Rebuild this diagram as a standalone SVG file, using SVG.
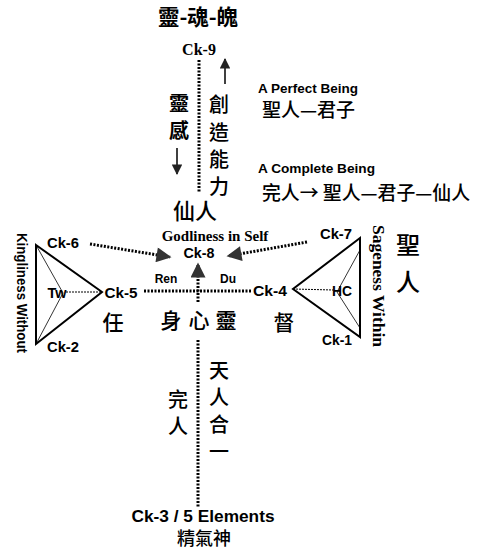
<svg xmlns="http://www.w3.org/2000/svg" width="488" height="560" viewBox="0 0 488 560">
<style>
.cjk{font-family:"Noto Sans CJK TC","Noto Sans CJK SC",sans-serif;font-weight:500;fill:#000}
.cjkb{font-family:"Noto Sans CJK TC","Noto Sans CJK SC",sans-serif;font-weight:bold;fill:#000}
.lab{font-family:"Liberation Sans",Arial,sans-serif;font-weight:bold;fill:#000}
.ser{font-family:"Liberation Serif","Times New Roman",serif;font-weight:bold;fill:#000}
.dot{stroke:#000;stroke-width:3;stroke-dasharray:2 1.5;fill:none}
.dotf{stroke:#000;stroke-width:1;stroke-dasharray:2 1;fill:none}
.thick{stroke:#000;stroke-width:2;fill:none}
.thin{stroke:#000;stroke-width:0.8;fill:none}
.solid{stroke:#000;stroke-width:1.5;fill:none}
</style>
<defs>
<marker id="ah" viewBox="0 0 10 10" refX="9" refY="5" markerWidth="6" markerHeight="5" orient="auto" markerUnits="strokeWidth">
<path d="M0,0 L10,5 L0,10 z" fill="#333"/>
</marker>
<marker id="ahs" viewBox="0 0 10 10" refX="9" refY="5" markerWidth="9" markerHeight="7" orient="auto" markerUnits="strokeWidth">
<path d="M0,0 L10,5 L0,10 z" fill="#222"/>
</marker>
</defs>
<rect width="488" height="560" fill="#fff"/>

<g id="title"><text class="cjkb" x="198" y="25" font-size="22" text-anchor="middle" textLength="80" lengthAdjust="spacingAndGlyphs">靈-魂-魄</text></g>

<g id="connectors">
<line class="dot" x1="199" y1="60" x2="199" y2="192"/>
<line class="solid" x1="225" y1="84" x2="225" y2="59" marker-end="url(#ahs)"/>
<line class="solid" x1="177" y1="148" x2="177" y2="174" marker-end="url(#ahs)"/>
<line class="dot" x1="90" y1="244" x2="170" y2="257" marker-end="url(#ah)"/>
<line class="dot" x1="307" y1="242" x2="228" y2="256" marker-end="url(#ah)"/>
<line class="dot" x1="144" y1="291" x2="251" y2="291"/>
<line class="dot" x1="198" y1="302" x2="198" y2="264" marker-end="url(#ah)"/>
<line class="dot" x1="198" y1="340" x2="198" y2="507"/>
</g>

<g id="ck9"><text class="ser" x="199" y="55" font-size="16" text-anchor="middle">Ck-9</text></g>

<g id="lingan">
<text class="cjkb" x="179" y="111" font-size="20" text-anchor="middle">靈</text>
<text class="cjkb" x="179" y="138" font-size="20" text-anchor="middle">感</text>
</g>
<g id="chuangzao">
<text class="cjk" x="219" y="112" font-size="20" text-anchor="middle">創</text>
<text class="cjk" x="219" y="140" font-size="20" text-anchor="middle">造</text>
<text class="cjk" x="219" y="167" font-size="20" text-anchor="middle">能</text>
<text class="cjk" x="219" y="194" font-size="20" text-anchor="middle">力</text>
</g>
<g id="xianren"><text class="cjk" x="195" y="219" font-size="22" text-anchor="middle">仙人</text></g>

<g id="perfect">
<text class="lab" x="258" y="93" font-size="13" textLength="100" lengthAdjust="spacingAndGlyphs">A Perfect Being</text>
<text class="cjk" x="262" y="117" font-size="19">聖人—君子</text>
</g>
<g id="complete">
<text class="lab" x="258" y="173" font-size="13" textLength="117" lengthAdjust="spacingAndGlyphs">A Complete Being</text>
<text class="cjk" x="262" y="200" font-size="19" textLength="208" lengthAdjust="spacingAndGlyphs">完人→ 聖人—君子—仙人</text>
</g>

<g id="ck8">
<text class="ser" x="215" y="241" font-size="15" text-anchor="middle">Godliness in Self</text>
<text class="lab" x="199" y="258" font-size="14" text-anchor="middle" textLength="31" lengthAdjust="spacingAndGlyphs">Ck-8</text>
</g>
<g id="rendu">
<text class="lab" x="166" y="283" font-size="12" text-anchor="middle">Ren</text>
<text class="lab" x="228" y="283" font-size="12" text-anchor="middle">Du</text>
</g>

<g id="left-tri">
<path class="thick" d="M36,245 L102,292 L36,344 Z"/>
<path class="thin" d="M36,245 L63,293 L36,344"/>
<line class="dotf" x1="66" y1="292" x2="102" y2="292"/>
<text class="lab" x="57" y="298" font-size="14" text-anchor="middle" textLength="19" lengthAdjust="spacingAndGlyphs">Tw</text>
<text class="lab" x="63" y="248" font-size="14" text-anchor="middle" textLength="32" lengthAdjust="spacingAndGlyphs">Ck-6</text>
<text class="lab" x="63" y="352" font-size="14" text-anchor="middle" textLength="32" lengthAdjust="spacingAndGlyphs">Ck-2</text>
<text class="lab" x="121" y="298" font-size="14" text-anchor="middle" textLength="33" lengthAdjust="spacingAndGlyphs">Ck-5</text>
<text class="lab" transform="translate(22,293) rotate(90)" x="0" y="5" font-size="15" text-anchor="middle" textLength="120" lengthAdjust="spacingAndGlyphs">Kingliness Without</text>
<text class="cjk" x="113" y="330" font-size="21" text-anchor="middle">任</text>
</g>

<g id="right-tri">
<path class="thick" d="M360,238 L293,289 L360,337 Z"/>
<path class="thin" d="M360,250 L337,292 L360,328"/>
<line class="dotf" x1="293" y1="289" x2="333" y2="290"/>
<text class="lab" x="342" y="296" font-size="14" text-anchor="middle" textLength="20" lengthAdjust="spacingAndGlyphs">HC</text>
<text class="lab" x="336" y="239" font-size="14" text-anchor="middle" textLength="32" lengthAdjust="spacingAndGlyphs">Ck-7</text>
<text class="lab" x="337" y="345" font-size="14" text-anchor="middle" textLength="30" lengthAdjust="spacingAndGlyphs">Ck-1</text>
<text class="lab" x="270" y="296" font-size="14" text-anchor="middle" textLength="34" lengthAdjust="spacingAndGlyphs">Ck-4</text>
<text class="ser" transform="translate(378,286) rotate(90)" x="0" y="5" font-size="16" text-anchor="middle" textLength="122" lengthAdjust="spacingAndGlyphs">Sageness Within</text>
<text class="cjk" x="284" y="330" font-size="21" text-anchor="middle">督</text>
</g>

<g id="shengren">
<text class="cjk" x="408" y="254" font-size="24" text-anchor="middle">聖</text>
<text class="cjk" x="408" y="291" font-size="24" text-anchor="middle">人</text>
</g>

<g id="shenxinling">
<text class="cjk" x="171" y="328" font-size="21" text-anchor="middle">身</text>
<text class="cjk" x="199" y="328" font-size="21" text-anchor="middle">心</text>
<text class="cjkb" x="226" y="328" font-size="21" text-anchor="middle">靈</text>
</g>

<g id="tianren">
<text class="cjk" x="219" y="378" font-size="20" text-anchor="middle">天</text>
<text class="cjk" x="219" y="405" font-size="20" text-anchor="middle">人</text>
<text class="cjk" x="219" y="432" font-size="20" text-anchor="middle">合</text>
<text class="cjk" x="219" y="459" font-size="20" text-anchor="middle">一</text>
</g>
<g id="wanren">
<text class="cjk" x="178" y="407" font-size="20" text-anchor="middle">完</text>
<text class="cjk" x="178" y="434" font-size="20" text-anchor="middle">人</text>
</g>

<g id="ck3">
<text class="lab" x="203" y="522" font-size="16" text-anchor="middle" textLength="143" lengthAdjust="spacingAndGlyphs">Ck-3 / 5 Elements</text>
<text class="cjk" x="204" y="545" font-size="18" text-anchor="middle">精氣神</text>
</g>
</svg>
